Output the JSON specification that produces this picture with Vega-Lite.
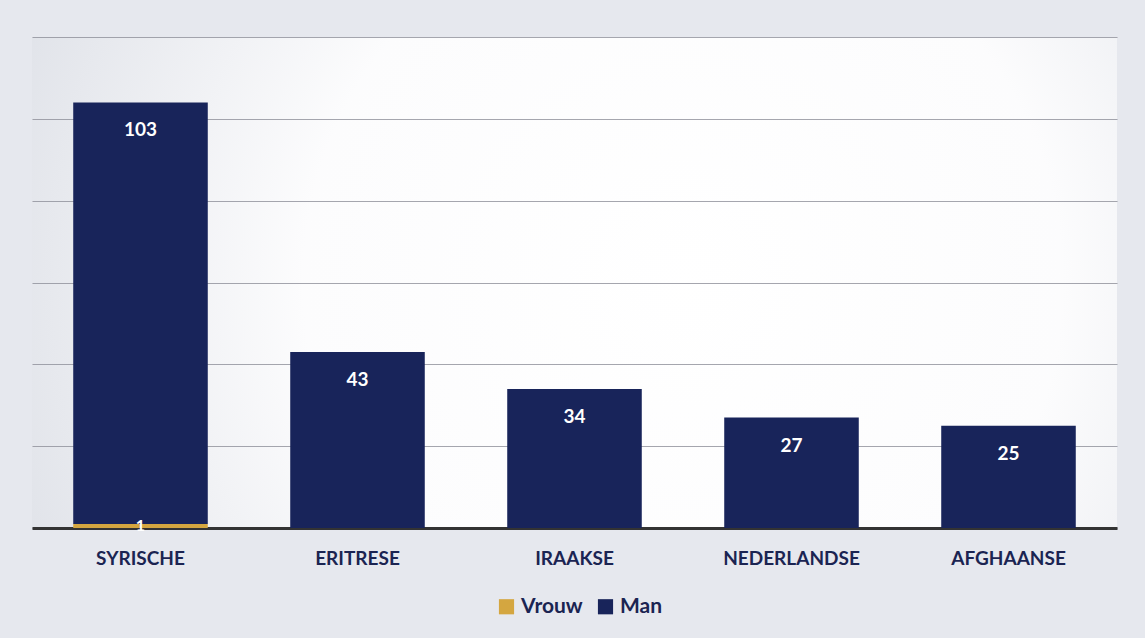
{
  "$schema": "https://vega.github.io/schema/vega-lite/v6.json",
  "width": 1085,
  "height": 491,
  "autosize": "none",
  "padding": {"left": 32, "top": 37, "right": 28, "bottom": 110},
  "background": "#e6e8ee",
  "config": {
    "view": {"stroke": null, "fill": {"gradient": "radial", "x1": 0.6, "y1": 0.5, "x2": 0.6, "y2": 0.5, "r1": 0, "r2": 0.7, "stops": [{"offset": 0, "color": "#ffffff"}, {"offset": 0.5, "color": "#fcfcfd"}, {"offset": 1, "color": "#dcdfe6"}]}},
    "font": "Lato"
  },
  "data": {
    "values": [
      {"nat": "SYRISCHE", "sex": "Vrouw", "value": 1},
      {"nat": "SYRISCHE", "sex": "Man", "value": 103},
      {"nat": "ERITRESE", "sex": "Vrouw", "value": 0},
      {"nat": "ERITRESE", "sex": "Man", "value": 43},
      {"nat": "IRAAKSE", "sex": "Vrouw", "value": 0},
      {"nat": "IRAAKSE", "sex": "Man", "value": 34},
      {"nat": "NEDERLANDSE", "sex": "Vrouw", "value": 0},
      {"nat": "NEDERLANDSE", "sex": "Man", "value": 27},
      {"nat": "AFGHAANSE", "sex": "Vrouw", "value": 0},
      {"nat": "AFGHAANSE", "sex": "Man", "value": 25}
    ]
  },
  "transform": [
    {"joinaggregate": [{"op": "sum", "field": "value", "as": "total"}], "groupby": ["nat"]}
  ],
  "encoding": {
    "x": {
      "field": "nat", "type": "nominal", "sort": null,
      "scale": {"paddingInner": 0.38, "paddingOuter": 0.19},
      "axis": {"title": null, "labelAngle": 0, "labelFont": "Lato", "labelFontWeight": "bold", "labelFontSize": 19, "labelColor": "#1b2452", "labelPadding": 21, "ticks": false, "domainColor": "#333333", "domainWidth": 3}
    }
  },
  "layer": [
    {
      "mark": {"type": "bar"},
      "encoding": {
        "y": {"field": "value", "type": "quantitative", "stack": "zero", "scale": {"domain": [0, 120]},
          "axis": {"title": null, "labels": false, "ticks": false, "domain": false, "values": [0, 20, 40, 60, 80, 100, 120], "gridColor": "#8e909a", "gridWidth": 1, "gridOpacity": 0.8}},
        "color": {"field": "sex", "type": "nominal", "sort": ["Vrouw", "Man"],
          "scale": {"domain": ["Vrouw", "Man"], "range": ["#d4a640", "#18245a"]},
          "legend": {"title": null, "orient": "none", "direction": "horizontal", "legendX": 464, "legendY": 559, "symbolType": "square", "symbolSize": 230, "symbolStrokeWidth": 0, "labelFont": "Lato", "labelFontWeight": "bold", "labelFontSize": 21, "labelColor": "#1b2452", "columnPadding": 12, "labelOffset": 4}},
        "order": {"field": "sex", "sort": "descending"}
      }
    },
    {
      "transform": [{"filter": "datum.sex === 'Man'"}],
      "mark": {"type": "text", "color": "white", "font": "Lato", "fontWeight": "bold", "fontSize": 19, "dy": 28},
      "encoding": {
        "y": {"field": "total", "type": "quantitative"},
        "text": {"field": "value"}
      }
    },
    {
      "transform": [{"filter": "datum.sex === 'Vrouw' && datum.value > 0"}],
      "mark": {"type": "text", "color": "white", "font": "Lato", "fontWeight": "bold", "fontSize": 16, "dy": 2},
      "encoding": {
        "y": {"field": "value", "type": "quantitative"},
        "text": {"field": "value"}
      }
    }
  ]
}
